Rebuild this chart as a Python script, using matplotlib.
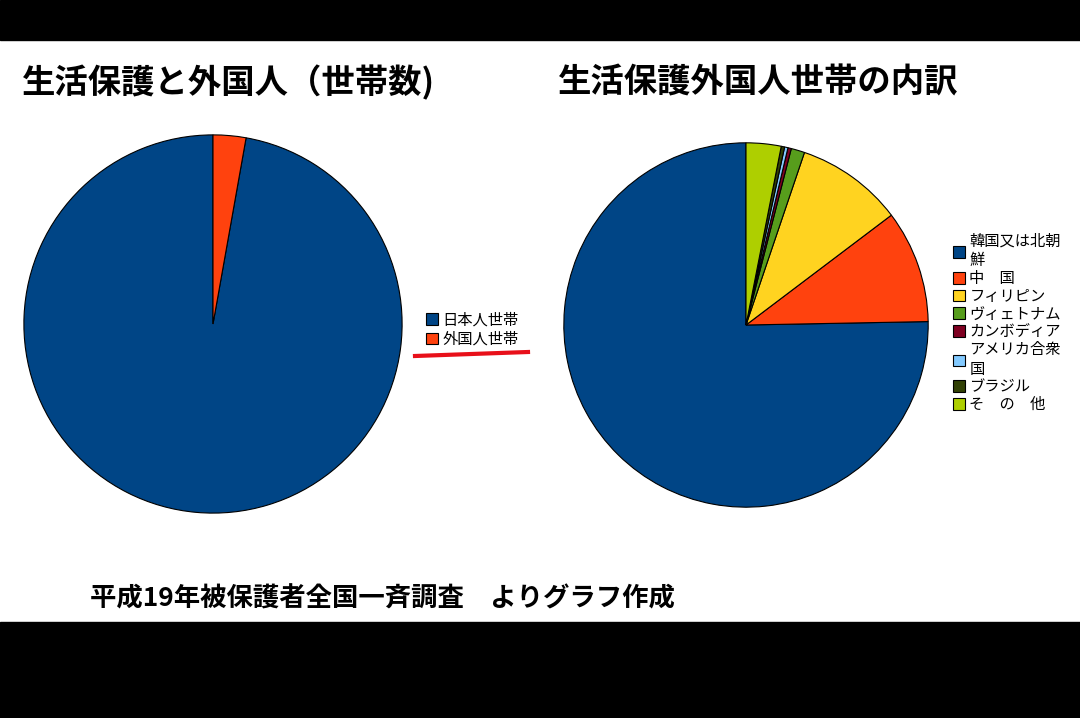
import matplotlib.pyplot as plt
from matplotlib.patches import Rectangle
from matplotlib.lines import Line2D

plt.rcParams['font.family'] = ['Noto Sans CJK JP', 'DejaVu Sans']

# 左: 生活保護と外国人（世帯数）
left_labels = ['日本人世帯', '外国人世帯']
left_values = [97.2, 2.8]
left_colors = ['#004586', '#ff420e']

# 右: 生活保護外国人世帯の内訳
right_labels = ['韓国又は北朝\n鮮', '中　国', 'フィリピン', 'ヴィェトナム', 'カンボディア',
                'アメリカ合衆\n国', 'ブラジル', 'そ　の　他']
right_values = [75.3, 10.0, 9.5, 1.2, 0.3, 0.3, 0.3, 3.1]
right_colors = ['#004586', '#ff420e', '#ffd320', '#579d1c', '#7e0021',
                '#83caff', '#314004', '#aecf00']

W, H = 1080, 718
fig = plt.figure(figsize=(W / 100, H / 100), dpi=100)
fig.patches.append(Rectangle((0, 0), 1, 96 / H, transform=fig.transFigure, color='black', zorder=-1))
fig.patches.append(Rectangle((0, 1 - 40 / H), 1, 40 / H, transform=fig.transFigure, color='black', zorder=-1))


def px_axes(cx, cy, r):
    return fig.add_axes([(cx - r) / W, (H - cy - r) / H, 2 * r / W, 2 * r / H])


wp = dict(edgecolor='black', linewidth=0.8)

ax1 = px_axes(213, 324, 191)
w1, _ = ax1.pie(left_values, colors=left_colors, startangle=90, counterclock=True,
                wedgeprops=wp, radius=1)
ax1.set_xlim(-1.01, 1.01)
ax1.set_ylim(-1.01, 1.01)
ax1.axis('off')
fig.legend(w1, left_labels, loc='upper left', bbox_to_anchor=(418 / W, 1 - 304 / H),
           frameon=False, fontsize=11, handlelength=0.8, handleheight=0.8,
           handletextpad=0.3, labelspacing=0.15, borderpad=0)
fig.add_artist(Line2D([415 / W, 528 / W], [1 - 356 / H, 1 - 352 / H], color='#e8101a', linewidth=3))

ax2 = px_axes(746, 325, 184)
w2, _ = ax2.pie(right_values, colors=right_colors, startangle=90, counterclock=True,
                wedgeprops=wp, radius=1)
ax2.set_xlim(-1.01, 1.01)
ax2.set_ylim(-1.01, 1.01)
ax2.axis('off')
fig.legend(w2, right_labels, loc='upper left', bbox_to_anchor=(945 / W, 1 - 225 / H),
           frameon=False, fontsize=11, handlelength=0.8, handleheight=0.8,
           handletextpad=0.3, labelspacing=0.05, borderpad=0)

fig.text(22 / W, 1 - 83 / H, '生活保護と外国人（世帯数)', fontsize=24, fontweight='bold', va='center')
fig.text(558 / W, 1 - 83 / H, '生活保護外国人世帯の内訳', fontsize=24, fontweight='bold', va='center')
fig.text(90 / W, 1 - 599 / H, '平成19年被保護者全国一斉調査　よりグラフ作成', fontsize=19,
         fontweight='bold', va='center')

fig.savefig('out.png', dpi=100)
